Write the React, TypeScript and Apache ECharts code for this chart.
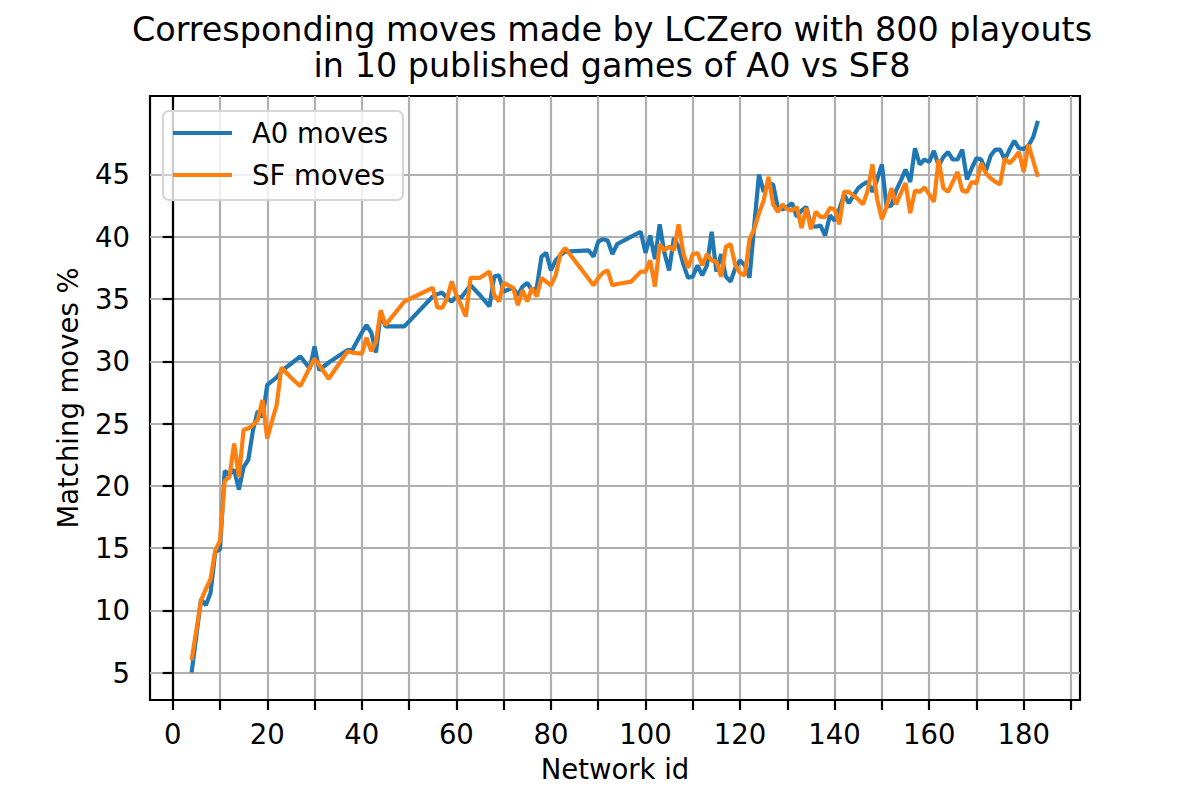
import { useEffect, useRef } from "react";
import * as echarts from "echarts";

const networkIds = [
  4, 6, 7, 8, 9, 10, 11, 12, 13, 14, 15, 16, 17, 18, 19, 20, 21, 22, 23, 25, 27, 29, 30, 31, 33, 35, 37, 38,
  40, 41, 42, 43, 44, 45, 49, 55, 56, 57, 58, 59, 60, 61, 62, 63, 65, 67, 68, 69, 70, 72, 73, 74, 75, 76, 77,
  78, 79, 80, 81, 82, 83, 88, 89, 90, 91, 92, 93, 94, 97, 99, 100, 101, 102, 103, 104, 105, 106, 107, 108,
  109, 110, 111, 112, 113, 114, 115, 116, 117, 118, 119, 120, 121, 122, 123, 124, 125, 126, 127, 128, 129,
  130, 131, 132, 133, 134, 135, 136, 137, 138, 139, 140, 141, 142, 143, 144, 145, 146, 147, 148, 149, 150,
  151, 152, 153, 154, 155, 156, 157, 158, 159, 160, 161, 162, 163, 164, 165, 166, 167, 168, 169, 170, 171,
  172, 173, 174, 175, 176, 177, 178, 179, 180, 181, 182, 183,
];

const a0Moves = [
  5.0, 10.9, 10.4, 11.4, 14.7, 14.9, 21.2, 20.9, 21.3, 19.7, 21.5, 22.1, 24.5, 26.0, 25.5, 28.1, 28.4, 28.7,
  29.2, 29.8, 30.4, 29.4, 31.2, 29.3, 29.9, 30.4, 30.9, 30.9, 32.3, 32.9, 32.3, 30.7, 33.9, 32.8, 32.8, 35.2,
  35.4, 35.5, 35.1, 34.8, 35.2, 35.1, 35.6, 36.1, 35.3, 34.4, 36.8, 36.9, 35.6, 35.9, 35.3, 36.0, 36.3, 35.7,
  35.9, 38.4, 38.7, 37.3, 38.1, 38.5, 38.8, 38.9, 38.4, 39.6, 39.8, 39.7, 38.6, 39.4, 40.0, 40.4, 38.7, 40.1,
  38.2, 41.0, 38.7, 37.3, 39.9, 39.2, 37.8, 36.7, 36.8, 37.7, 36.9, 37.7, 40.4, 37.2, 38.6, 36.8, 36.4, 37.5,
  38.1, 37.7, 36.7, 40.9, 45.0, 43.6, 44.3, 44.2, 42.3, 42.2, 42.4, 42.7, 41.6, 42.1, 42.4, 40.9, 40.8, 40.9,
  40.1, 41.7, 41.3, 42.2, 43.4, 42.7, 43.3, 43.9, 44.2, 44.4, 43.6, 44.6, 45.8, 42.4, 42.5, 43.7, 44.5, 45.4,
  44.4, 47.1, 45.8, 46.2, 46.0, 46.9, 45.7, 46.4, 46.8, 46.2, 46.2, 47.0, 44.6, 45.5, 46.3, 46.2, 45.3, 46.5,
  47.0, 47.0, 46.2, 47.0, 47.7, 47.1, 47.05, 47.3, 48.0, 49.3,
];

const sfMoves = [
  6.0, 10.8, 11.7, 12.5, 14.8, 15.6, 20.4, 20.7, 23.4, 20.7, 24.5, 24.6, 24.9, 25.3, 26.9, 23.8, 25.2, 26.5,
  29.5, 28.7, 28.0, 29.5, 30.2, 29.7, 28.6, 29.7, 30.8, 30.7, 30.6, 31.9, 30.8, 31.6, 34.1, 32.9, 34.8, 35.9,
  34.3, 34.3, 35.0, 36.4, 35.3, 34.5, 33.6, 36.7, 36.7, 37.2, 35.3, 34.8, 36.3, 35.9, 34.5, 35.7, 34.8, 35.9,
  35.2, 36.7, 36.4, 36.1, 36.9, 38.6, 39.1, 36.6, 36.1, 36.7, 37.1, 37.3, 36.1, 36.2, 36.4, 37.2, 37.2, 38.1,
  36.0, 39.4, 38.9, 39.2, 38.9, 41.0, 38.7, 37.5, 38.6, 38.7, 37.7, 38.6, 38.1, 38.0, 36.8, 39.2, 39.4, 37.7,
  37.1, 36.9, 39.8, 40.6, 41.9, 42.9, 44.8, 42.6, 42.0, 42.6, 42.2, 42.1, 42.4, 40.7, 42.3, 40.6, 42.0, 41.6,
  41.6, 42.3, 42.2, 41.0, 43.6, 43.6, 43.3, 43.0, 42.6, 43.7, 45.8, 43.0, 41.4, 42.4, 43.9, 42.6, 43.5, 44.3,
  41.9, 43.7, 43.6, 43.95, 43.4, 42.8, 46.2, 43.9, 43.6, 44.4, 45.2, 43.7, 43.6, 44.4, 44.3, 45.9, 45.1, 44.7,
  44.4, 44.2, 46.3, 45.9, 46.3, 46.8, 45.2, 47.4, 46.1, 44.8,
];

const xTickValues = [0, 10, 20, 30, 40, 50, 60, 70, 80, 90, 100, 110, 120, 130, 140, 150, 160, 170, 180, 190];
const xLabelValues = [0, 20, 40, 60, 80, 100, 120, 140, 160, 180];
const yTickValues = [5, 10, 15, 20, 25, 30, 35, 40, 45];

const FONT = "DejaVu Sans";

export default function App() {
  const ref = useRef<HTMLDivElement>(null);

  useEffect(() => {
    document.body.style.margin = "0";
    if (!ref.current) return;
    const chart = echarts.init(ref.current, undefined, { renderer: "svg" });
    const a0Data = networkIds.map((id, i) => [id, a0Moves[i]]);
    const sfData = networkIds.map((id, i) => [id, sfMoves[i]]);

    chart.setOption({
      animation: false,
      backgroundColor: "#ffffff",
      title: {
        text: "Corresponding moves made by LCZero with 800 playouts\nin 10 published games of A0 vs SF8",
        left: 612,
        top: 11,
        textAlign: "center",
        padding: 0,
        textStyle: {
          fontFamily: FONT,
          fontSize: 33.4,
          fontWeight: "normal",
          color: "#000",
          lineHeight: 36.5,
        },
      },
      grid: {
        left: 150,
        right: 120,
        top: 96,
        bottom: 100,
        show: true,
        borderColor: "#000",
        borderWidth: 2.2,
        backgroundColor: "transparent",
      },
      legend: {
        orient: "vertical",
        left: 173,
        top: 118,
        padding: 0,
        itemWidth: 59,
        itemHeight: 4,
        itemGap: 12,
        icon: "rect",
        z: 20,
        data: ["A0 moves", "SF moves"],
        textStyle: {
          fontFamily: FONT,
          fontSize: 27.5,
          color: "#000",
          lineHeight: 30,
          padding: [0, 0, 0, 15],
        },
      },
      graphic: [
        {
          type: "rect",
          z: 10,
          shape: { x: 163, y: 111, width: 240, height: 89, r: 6 },
          style: { fill: "rgba(255,255,255,0.8)", stroke: "#d6d6d6", lineWidth: 2.2 },
        },
      ],
      xAxis: {
        type: "value",
        min: -4.8,
        max: 191.9,
        name: "Network id",
        nameLocation: "middle",
        nameGap: 55,
        nameTextStyle: { fontFamily: FONT, fontSize: 27.5, color: "#000" },
        axisLine: { show: true, lineStyle: { color: "#000", width: 2.2 } },
        axisTick: { show: true, length: 10, customValues: xTickValues, lineStyle: { color: "#000", width: 2.2 } },
        axisLabel: {
          customValues: xLabelValues,
          margin: 20,
          fontFamily: FONT,
          fontSize: 27.5,
          color: "#000",
        },
        splitLine: { show: true, lineStyle: { color: "#b0b0b0", width: 2.2 } },
      },
      yAxis: {
        type: "value",
        min: 2.8,
        max: 51.3,
        name: "Matching moves %",
        nameLocation: "middle",
        nameGap: 68,
        nameTextStyle: { fontFamily: FONT, fontSize: 27.5, color: "#000" },
        axisLine: { show: true, lineStyle: { color: "#000", width: 2.2 } },
        axisTick: { show: true, length: 10, customValues: yTickValues, lineStyle: { color: "#000", width: 2.2 } },
        axisLabel: {
          customValues: yTickValues,
          margin: 20,
          fontFamily: FONT,
          fontSize: 27.5,
          color: "#000",
        },
        splitLine: { show: true, lineStyle: { color: "#b0b0b0", width: 2.2 } },
      },
      series: [
        {
          name: "A0 moves",
          type: "line",
          data: a0Data,
          showSymbol: false,
          symbol: "none",
          color: "#1f77b4",
          lineStyle: { color: "#1f77b4", width: 4.2 },
          z: 3,
        },
        {
          name: "SF moves",
          type: "line",
          data: sfData,
          showSymbol: false,
          symbol: "none",
          color: "#ff7f0e",
          lineStyle: { color: "#ff7f0e", width: 4.2 },
          z: 4,
        },
      ],
    });

    return () => chart.dispose();
  }, []);

  return <div ref={ref} style={{ width: 1200, height: 800 }} />;
}
